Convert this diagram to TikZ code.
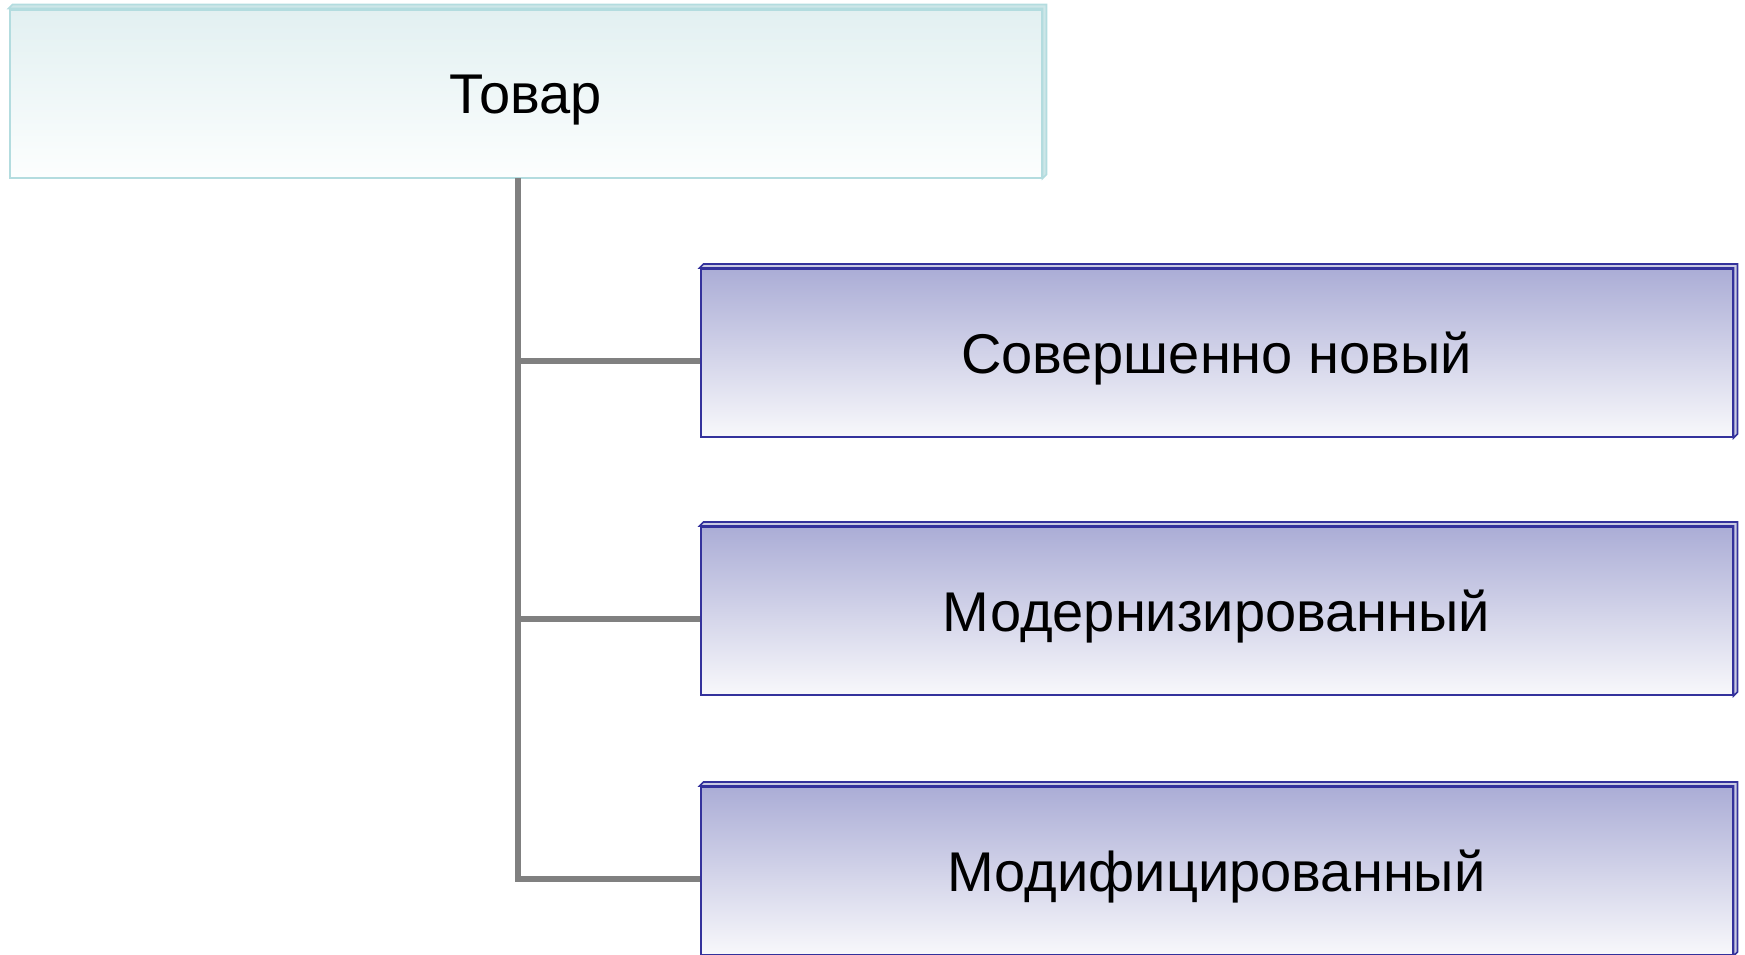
\documentclass[tikz,border=0pt]{standalone}
\usepackage{fontspec}
\setmainfont{Liberation Sans}
\definecolor{tealtop}{HTML}{E2F0F1}
\definecolor{tealbot}{HTML}{FCFEFE}
\definecolor{tealline}{HTML}{B3DCDF}
\definecolor{tealdepth}{HTML}{CDE6E8}
\definecolor{purtop}{HTML}{ABADD6}
\definecolor{purbot}{HTML}{F8F8FB}
\definecolor{purline}{HTML}{34329C}
\definecolor{purdepth}{HTML}{C9CAE3}
\definecolor{connc}{HTML}{808080}
\tikzset{
  boxtext/.style={font=\fontsize{42}{50}\selectfont, text height=30pt, text depth=0pt},
  topbox/.style={draw=tealline, line width=1.5pt, top color=tealtop, bottom color=tealbot,
    minimum width=774pt, minimum height=126pt, inner sep=0pt, boxtext},
  subbox/.style={draw=purline, line width=1.5pt, top color=purtop, bottom color=purbot,
    minimum width=774pt, minimum height=126pt, inner sep=0pt, boxtext},
  tealface/.style={draw=tealline, line width=1.2pt, fill=tealdepth, line join=miter},
  purface/.style={draw=purline, line width=1.2pt, fill=purdepth, line join=miter},
  conn/.style={draw=connc, line width=4.5pt, line join=miter}
}
\begin{document}
\begin{tikzpicture}[x=0.75pt,y=-0.75pt]
\useasboundingbox (0,0) rectangle (1745,954);
\node[topbox] (top) at (525.5,93.5) {Товар};
\node[subbox] (b1) at (1216.5,353) {Совершенно новый};
\node[subbox] (b2) at (1216.5,611) {Модернизированный};
\node[subbox] (b3) at (1216.5,871) {Модифицированный};
% 3D faces
\draw[tealface] (top.north west) -- ++(4,-4) -- ([shift={(4,-4)}]top.north east) -- ([shift={(4,-4)}]top.south east) -- (top.south east) -- (top.north east) -- cycle;
\foreach \b in {b1,b2,b3}{
  \draw[purface] (\b.north west) -- ++(4,-4) -- ([shift={(4,-4)}]\b.north east) -- ([shift={(4,-4)}]\b.south east) -- (\b.south east) -- (\b.north east) -- cycle;
}
% connectors
\coordinate (trunk) at (517.5,178);
\coordinate (e1) at ([yshift=-6pt]b1.west);
\coordinate (e2) at ([yshift=-6pt]b2.west);
\coordinate (e3) at ([yshift=-6pt]b3.west);
\draw[conn] (trunk) |- (e3);
\draw[conn] (trunk |- e1) -- (e1);
\draw[conn] (trunk |- e2) -- (e2);
\end{tikzpicture}
\end{document}
